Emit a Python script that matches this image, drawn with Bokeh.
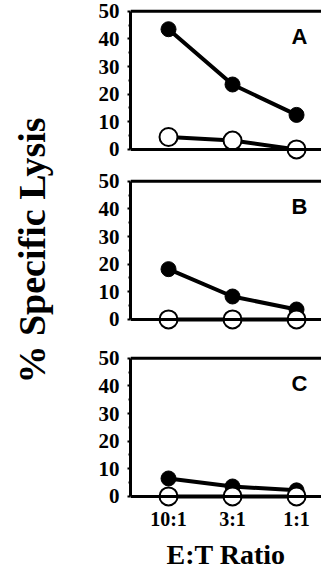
import math
from bokeh.plotting import figure
from bokeh.layouts import column, row
from bokeh.models import Range1d, FixedTicker, Span, Label
from bokeh.core.properties import value
from bokeh.embed import file_html
from bokeh.resources import INLINE

ratios = ["10:1", "3:1", "1:1"]
x_pos = [0, 1, 2]
panel_names = ["A", "B", "C"]
filled_A = [43.5, 23.5, 12.5]
open_A = [4.5, 3.2, 0.0]
filled_B = [18.2, 8.3, 3.6]
open_B = [0.0, 0.0, 0.0]
filled_C = [6.5, 3.6, 2.2]
open_C = [0.0, 0.0, 0.0]
y_ticks = [0, 10, 20, 30, 40, 50]
y_title = "% Specific Lysis"
x_title = "E:T Ratio"

SERIF = "Liberation Serif"
SANS = "Liberation Sans"
LEFT_W = 62


def make_panel(name, filled, opened, top_border, bottom_border, show_x):
    p = figure(frame_width=191, frame_height=152, output_backend="svg",
               toolbar_location=None,
               x_range=Range1d(-0.594, 2.39), y_range=Range1d(-4, 51),
               min_border_left=130 - LEFT_W, min_border_right=0,
               min_border_top=top_border, min_border_bottom=bottom_border,
               background_fill_color="white", border_fill_color="white")
    p.outline_line_color = None
    p.xgrid.visible = False
    p.ygrid.visible = False

    p.yaxis.ticker = FixedTicker(ticks=y_ticks, minor_ticks=[5, 15, 25, 35, 45])
    p.yaxis.bounds = (0, 50)
    p.yaxis.axis_line_width = 3
    p.yaxis.axis_line_color = "black"
    p.yaxis.major_tick_in = 0
    p.yaxis.major_tick_out = 3
    p.yaxis.major_tick_line_width = 2
    p.yaxis.minor_tick_in = 0
    p.yaxis.minor_tick_out = 2
    p.yaxis.minor_tick_line_width = 2
    p.yaxis.major_label_standoff = 8
    p.yaxis.major_label_text_font = SERIF
    p.yaxis.major_label_text_font_style = "bold"
    p.yaxis.major_label_text_font_size = "21px"
    p.yaxis.major_label_text_color = "black"

    if show_x:
        p.xaxis.ticker = FixedTicker(ticks=x_pos)
        p.xaxis.major_label_overrides = {x: r for x, r in zip(x_pos, ratios)}
        p.xaxis.axis_line_color = None
        p.xaxis.major_tick_line_color = None
        p.xaxis.major_tick_out = 0
        p.xaxis.major_tick_in = 0
        p.xaxis.minor_tick_out = 0
        p.xaxis.minor_tick_in = 0
        p.xaxis.minor_tick_line_color = None
        p.xaxis.major_label_standoff = 0
        p.xaxis.major_label_text_font = SERIF
        p.xaxis.major_label_text_font_style = "bold"
        p.xaxis.major_label_text_font_size = "20px"
        p.xaxis.major_label_text_color = "black"
        p.xaxis.axis_label = x_title
        p.xaxis.axis_label_text_font = SERIF
        p.xaxis.axis_label_text_font_style = "bold"
        p.xaxis.axis_label_text_font_size = "28px"
        p.xaxis.axis_label_text_color = "black"
        p.xaxis.axis_label_standoff = 6
    else:
        p.xaxis.visible = False

    p.add_layout(Span(location=50, dimension="width", line_color="black", line_width=3))
    p.add_layout(Span(location=0, dimension="width", line_color="black", line_width=3))

    p.line(x_pos, filled, line_color="black", line_width=4)
    p.scatter(x_pos, filled, size=15, fill_color="black", line_color="black")
    p.line(x_pos, opened, line_color="black", line_width=4)
    p.scatter(x_pos, opened, size=18, fill_color="white", line_color="black", line_width=2)

    p.add_layout(Label(x=2.17, y=41, text=name, text_align="right",
                       text_baseline="alphabetic", text_font=SANS,
                       text_font_style="bold", text_font_size="22px",
                       text_color="black"))
    return p


pA = make_panel(panel_names[0], filled_A, open_A, 8, 0, False)
pB = make_panel(panel_names[1], filled_B, open_B, 18, 0, False)
pC = make_panel(panel_names[2], filled_C, open_C, 25, 66, True)

# left strip carrying the shared y title
lab = figure(frame_width=LEFT_W, frame_height=573, output_backend="svg",
             toolbar_location=None, x_range=Range1d(0, LEFT_W),
             y_range=Range1d(0, 573), min_border=0,
             background_fill_color="white", border_fill_color="white")
lab.axis.visible = False
lab.grid.visible = False
lab.outline_line_color = None
lab.text(x=[31], y=[573 - 250], text=[y_title], angle=math.pi / 2,
         text_align="center", text_baseline="middle",
         text_font=value(SERIF), text_font_style="bold",
         text_font_size="38px", text_color="black")

layout = row(lab, column(pA, pB, pC, spacing=0), spacing=0)
open("out.html", "w").write(file_html(layout, INLINE))
